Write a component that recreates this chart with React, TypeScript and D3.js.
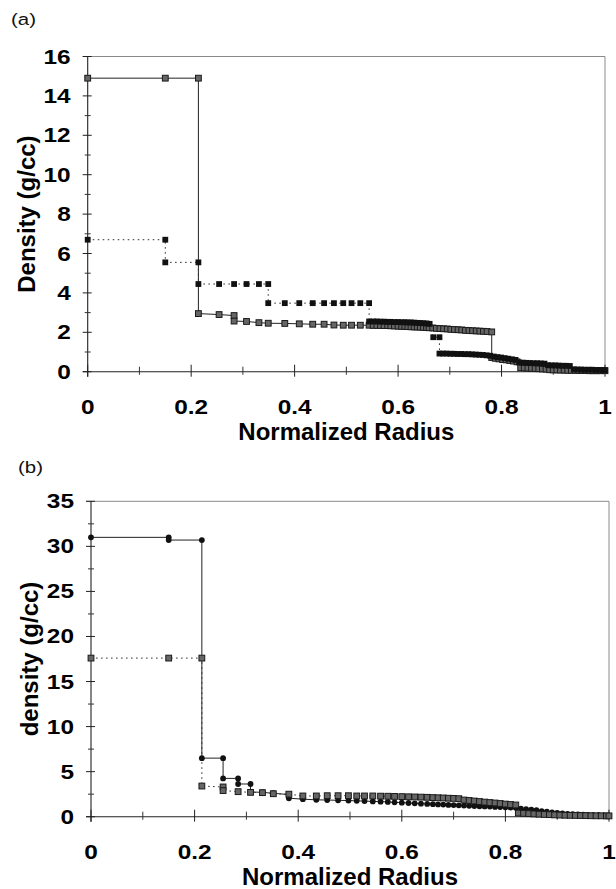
import React from "react";
import * as d3 from "d3";

type Pt = [number, number];

// ---------- Panel (a) data ----------
const seriesA1: Pt[] = [
  [0, 14.9], [0.15, 14.9], [0.214, 14.9], [0.214, 2.95], [0.254, 2.9], [0.283, 2.85],
  [0.283, 2.57], [0.307, 2.55], [0.331, 2.49], [0.349, 2.46], [0.381, 2.45], [0.409, 2.43],
  [0.435, 2.41], [0.457, 2.41], [0.476, 2.37], [0.494, 2.36], [0.51, 2.36], [0.527, 2.36],
  [0.544, 2.36], [0.552, 2.35], [0.559, 2.35], [0.566, 2.35], [0.573, 2.34], [0.58, 2.34],
  [0.586, 2.33], [0.593, 2.32], [0.6, 2.31], [0.607, 2.3], [0.613, 2.3], [0.619, 2.29],
  [0.625, 2.28], [0.631, 2.27], [0.637, 2.27], [0.643, 2.26], [0.649, 2.25], [0.655, 2.24],
  [0.66, 2.23], [0.667, 2.22], [0.674, 2.2], [0.681, 2.19], [0.688, 2.18], [0.695, 2.17],
  [0.702, 2.15], [0.709, 2.14], [0.716, 2.13], [0.723, 2.12], [0.73, 2.1], [0.737, 2.09],
  [0.744, 2.08], [0.751, 2.07], [0.758, 2.06], [0.765, 2.05], [0.772, 2.04], [0.781, 2.02],
  [0.781, 0.72], [0.788, 0.68], [0.795, 0.65], [0.802, 0.62], [0.809, 0.6], [0.816, 0.57],
  [0.823, 0.54], [0.83, 0.5], [0.837, 0.2], [0.844, 0.19], [0.851, 0.18], [0.858, 0.17],
  [0.865, 0.16], [0.872, 0.15], [0.879, 0.14], [0.886, 0.13], [0.893, 0.1], [0.9, 0.09],
  [0.907, 0.09], [0.914, 0.08], [0.921, 0.08], [0.928, 0.07], [0.935, 0.07], [0.942, 0.07],
  [0.949, 0.06], [0.956, 0.06], [0.963, 0.06], [0.97, 0.05], [0.977, 0.05], [0.984, 0.05],
  [0.991, 0.05], [1, 0.05],
];

const seriesA2: Pt[] = [
  [0, 6.7], [0.15, 6.7], [0.15, 5.55], [0.214, 5.55], [0.214, 4.45], [0.254, 4.45],
  [0.283, 4.45], [0.307, 4.45], [0.331, 4.45], [0.349, 4.45], [0.349, 3.48], [0.381, 3.48],
  [0.409, 3.48], [0.435, 3.48], [0.457, 3.48], [0.476, 3.48], [0.494, 3.48], [0.51, 3.48],
  [0.527, 3.48], [0.544, 3.48], [0.544, 2.55], [0.552, 2.55], [0.559, 2.55], [0.566, 2.54],
  [0.573, 2.54], [0.58, 2.53], [0.586, 2.53], [0.593, 2.52], [0.6, 2.52], [0.607, 2.51],
  [0.613, 2.51], [0.619, 2.5], [0.625, 2.5], [0.631, 2.49], [0.637, 2.48], [0.643, 2.47],
  [0.649, 2.46], [0.655, 2.45], [0.661, 2.43], [0.668, 1.75], [0.68, 1.75], [0.68, 0.92],
  [0.687, 0.92], [0.694, 0.92], [0.701, 0.91], [0.708, 0.91], [0.715, 0.9], [0.722, 0.9],
  [0.729, 0.89], [0.736, 0.89], [0.743, 0.88], [0.75, 0.87], [0.757, 0.86], [0.764, 0.85],
  [0.771, 0.83], [0.778, 0.81], [0.785, 0.77], [0.792, 0.74], [0.799, 0.72], [0.806, 0.69],
  [0.813, 0.66], [0.82, 0.63], [0.827, 0.6], [0.834, 0.47], [0.841, 0.46], [0.848, 0.45],
  [0.855, 0.44], [0.862, 0.43], [0.869, 0.43], [0.876, 0.42], [0.883, 0.41], [0.89, 0.33],
  [0.897, 0.32], [0.904, 0.32], [0.911, 0.31], [0.918, 0.3], [0.925, 0.3], [0.932, 0.29],
  [0.94, 0.12], [0.947, 0.11], [0.954, 0.11], [0.961, 0.1], [0.968, 0.1], [0.975, 0.1],
  [0.982, 0.09], [0.989, 0.09], [0.996, 0.08], [1, 0.08],
];

// ---------- Panel (b) data ----------
const seriesB1: Pt[] = [
  [0, 31], [0.15, 31], [0.15, 30.7], [0.214, 30.7], [0.214, 6.5], [0.255, 6.5],
  [0.255, 4.25], [0.284, 4.25], [0.284, 3.63], [0.308, 3.63], [0.308, 2.75], [0.331, 2.7],
  [0.352, 2.6], [0.382, 2.45], [0.382, 2.05], [0.409, 1.95], [0.435, 1.87], [0.456, 1.85],
  [0.477, 1.82], [0.497, 1.79], [0.513, 1.76], [0.528, 1.73], [0.544, 1.7], [0.559, 1.67],
  [0.573, 1.64], [0.586, 1.6], [0.6, 1.56], [0.613, 1.52], [0.625, 1.48], [0.637, 1.45],
  [0.649, 1.42], [0.66, 1.39], [0.67, 1.36], [0.68, 1.34], [0.69, 1.31], [0.7, 1.29],
  [0.71, 1.26], [0.72, 1.24], [0.73, 1.21], [0.74, 1.19], [0.75, 1.16], [0.76, 1.14],
  [0.77, 1.12], [0.78, 1.09], [0.79, 1.07], [0.8, 1.04], [0.81, 1.02], [0.82, 0.98],
  [0.83, 0.9], [0.84, 0.84], [0.85, 0.78], [0.86, 0.72], [0.87, 0.62], [0.88, 0.55],
  [0.89, 0.48], [0.9, 0.42], [0.91, 0.37], [0.92, 0.32], [0.93, 0.28], [0.94, 0.25],
  [0.95, 0.22], [0.96, 0.2], [0.97, 0.18], [0.98, 0.16], [0.99, 0.14], [1, 0.12],
];

const seriesB2: Pt[] = [
  [0, 17.6], [0.15, 17.6], [0.214, 17.6], [0.214, 3.4], [0.255, 3.3], [0.255, 2.9],
  [0.284, 2.78], [0.308, 2.7], [0.331, 2.67], [0.352, 2.55], [0.382, 2.5], [0.409, 2.3],
  [0.435, 2.3], [0.456, 2.33], [0.477, 2.33], [0.497, 2.33], [0.513, 2.3], [0.528, 2.3],
  [0.544, 2.3], [0.559, 2.28], [0.573, 2.27], [0.586, 2.25], [0.6, 2.23], [0.613, 2.21],
  [0.625, 2.19], [0.637, 2.17], [0.649, 2.15], [0.66, 2.12], [0.67, 2.1], [0.68, 2.08],
  [0.69, 2.05], [0.7, 2.03], [0.71, 2.0], [0.72, 1.85], [0.73, 1.8], [0.74, 1.74],
  [0.75, 1.68], [0.76, 1.62], [0.77, 1.57], [0.78, 1.52], [0.79, 1.46], [0.8, 1.4],
  [0.81, 1.35], [0.82, 1.3], [0.825, 0.4], [0.835, 0.37], [0.845, 0.34], [0.855, 0.31],
  [0.865, 0.28], [0.875, 0.25], [0.885, 0.23], [0.895, 0.2], [0.905, 0.18], [0.915, 0.16],
  [0.925, 0.15], [0.935, 0.14], [0.945, 0.13], [0.955, 0.12], [0.965, 0.11], [0.975, 0.1],
  [0.985, 0.1], [0.995, 0.09], [1, 0.09],
];

// ---------- Axis ticks / labels ----------
const xTickValues = [0, 0.2, 0.4, 0.6, 0.8, 1];
const xTickLabels = ["0", "0.2", "0.4", "0.6", "0.8", "1"];
const xMinorTicks = [0.1, 0.3, 0.5, 0.7, 0.9];
const yTicksA = [0, 2, 4, 6, 8, 10, 12, 14, 16];
const yMinorA = [1, 3, 5, 7, 9, 11, 13, 15];
const yTicksB = [0, 5, 10, 15, 20, 25, 30, 35];
const yMinorB = [2.5, 7.5, 12.5, 17.5, 22.5, 27.5, 32.5];

const FONT = "'Liberation Sans', Arial, Helvetica, sans-serif";

type Marker = "graySquare" | "blackSquare" | "circle";
interface SeriesDef {
  data: Pt[];
  dashed: boolean;
  marker: Marker;
}

interface PanelProps {
  x: d3.ScaleLinear<number, number>;
  y: d3.ScaleLinear<number, number>;
  yTicks: number[];
  yMinor: number[];
  series: SeriesDef[];
  letter: string;
  letterX: number;
  letterY: number;
  yTitle: string;
  yTitleX: number;
  xTitleY: number;
  markerSize: number;
}

function MarkerShape({ m, cx, cy, s }: { m: Marker; cx: number; cy: number; s: number }) {
  if (m === "circle") {
    return <circle cx={cx} cy={cy} r={s / 2} fill="#111" />;
  }
  if (m === "blackSquare") {
    return <rect x={cx - s / 2} y={cy - s / 2} width={s} height={s} fill="#111" />;
  }
  return (
    <rect
      x={cx - s / 2}
      y={cy - s / 2}
      width={s}
      height={s}
      fill="#666"
      stroke="#1a1a1a"
      strokeWidth={1}
    />
  );
}

function Panel(p: PanelProps) {
  const { x, y } = p;
  const [x0, x1] = x.range();
  const [y0, y1] = y.range();
  const line = d3
    .line<Pt>()
    .x((d) => x(d[0]))
    .y((d) => y(d[1]));
  const sx = 1.22;
  return (
    <g>
      <text
        transform={`translate(${p.letterX},${p.letterY}) scale(1.2,1)`}
        fontFamily={FONT}
        fontSize={17}
        fill="#111"
      >
        {p.letter}
      </text>
      <line x1={x0 - 5} x2={x1} y1={y1} y2={y1} stroke="#8a8a8a" strokeWidth={1} />
      <line x1={x1} x2={x1} y1={y1} y2={y0 + 1} stroke="#8a8a8a" strokeWidth={1} />
      <line x1={x0} x2={x0} y1={y1} y2={y0 + 5} stroke="#222" strokeWidth={1.1} />
      <line x1={x0 - 5} x2={x1} y1={y0} y2={y0} stroke="#222" strokeWidth={1.1} />
      {p.yTicks.map((t) => (
        <line key={"ym" + t} x1={x0 - 5} x2={x0 + 4} y1={y(t)} y2={y(t)} stroke="#222" strokeWidth={1} />
      ))}
      {p.yMinor.map((t) => (
        <line key={"yn" + t} x1={x0 - 3} x2={x0 + 3} y1={y(t)} y2={y(t)} stroke="#333" strokeWidth={1} />
      ))}
      {xTickValues.map((t) => (
        <line key={"xm" + t} x1={x(t)} x2={x(t)} y1={y0 - 7} y2={y0 + 5} stroke="#222" strokeWidth={1} />
      ))}
      {xMinorTicks.map((t) => (
        <line key={"xn" + t} x1={x(t)} x2={x(t)} y1={y0 - 5} y2={y0 + 3} stroke="#333" strokeWidth={1} />
      ))}
      {p.yTicks.map((t) => (
        <text
          key={"yl" + t}
          transform={`translate(${x0 - 17},${y(t) + 7}) scale(${sx},1)`}
          textAnchor="end"
          fontFamily={FONT}
          fontWeight="bold"
          fontSize={20}
          fill="#000"
        >
          {String(t)}
        </text>
      ))}
      {xTickValues.map((t, i) => (
        <text
          key={"xl" + t}
          transform={`translate(${x(t)},${y0 + 42}) scale(${sx},1)`}
          textAnchor="middle"
          fontFamily={FONT}
          fontWeight="bold"
          fontSize={20}
          fill="#000"
        >
          {xTickLabels[i]}
        </text>
      ))}
      <text
        x={(x0 + x1) / 2}
        y={p.xTitleY}
        textAnchor="middle"
        fontFamily={FONT}
        fontWeight="bold"
        fontSize={24}
        fill="#000"
      >
        Normalized Radius
      </text>
      <text
        transform={`translate(${p.yTitleX},${(y0 + y1) / 2}) rotate(-90)`}
        textAnchor="middle"
        fontFamily={FONT}
        fontWeight="bold"
        fontSize={24}
        fill="#000"
      >
        {p.yTitle}
      </text>
      {p.series.map((s, i) => (
        <path
          key={"l" + i}
          d={line(s.data) || ""}
          fill="none"
          stroke={s.dashed ? "#333" : "#222"}
          strokeWidth={1}
          strokeDasharray={s.dashed ? "1.6,3.4" : undefined}
        />
      ))}
      {p.series.map((s, i) => (
        <g key={"m" + i}>
          {s.data.map((d, j) => (
            <MarkerShape key={j} m={s.marker} cx={x(d[0])} cy={y(d[1])} s={p.markerSize} />
          ))}
        </g>
      ))}
    </g>
  );
}

export default function App() {
  const xA = d3.scaleLinear().domain([0, 1]).range([87.7, 605]);
  const yA = d3.scaleLinear().domain([0, 16]).range([371.7, 56.5]);
  const xB = d3.scaleLinear().domain([0, 1]).range([91, 609]);
  const yB = d3.scaleLinear().domain([0, 35]).range([816.7, 501.3]);

  return (
    <svg
      width={616}
      height={889}
      viewBox="0 0 616 889"
      style={{ position: "absolute", left: 0, top: 0, background: "#fff" }}
    >
      <rect x={0} y={0} width={616} height={889} fill="#fff" />
      <Panel
        x={xA}
        y={yA}
        yTicks={yTicksA}
        yMinor={yMinorA}
        series={[
          { data: seriesA1, dashed: false, marker: "graySquare" },
          { data: seriesA2, dashed: true, marker: "blackSquare" },
        ]}
        letter="(a)"
        letterX={11}
        letterY={25}
        yTitle="Density (g/cc)"
        yTitleX={35}
        xTitleY={440}
        markerSize={5.8}
      />
      <Panel
        x={xB}
        y={yB}
        yTicks={yTicksB}
        yMinor={yMinorB}
        series={[
          { data: seriesB1, dashed: false, marker: "circle" },
          { data: seriesB2, dashed: true, marker: "graySquare" },
        ]}
        letter="(b)"
        letterX={18}
        letterY={473}
        yTitle="density (g/cc)"
        yTitleX={38}
        xTitleY={885}
        markerSize={5.8}
      />
    </svg>
  );
}
